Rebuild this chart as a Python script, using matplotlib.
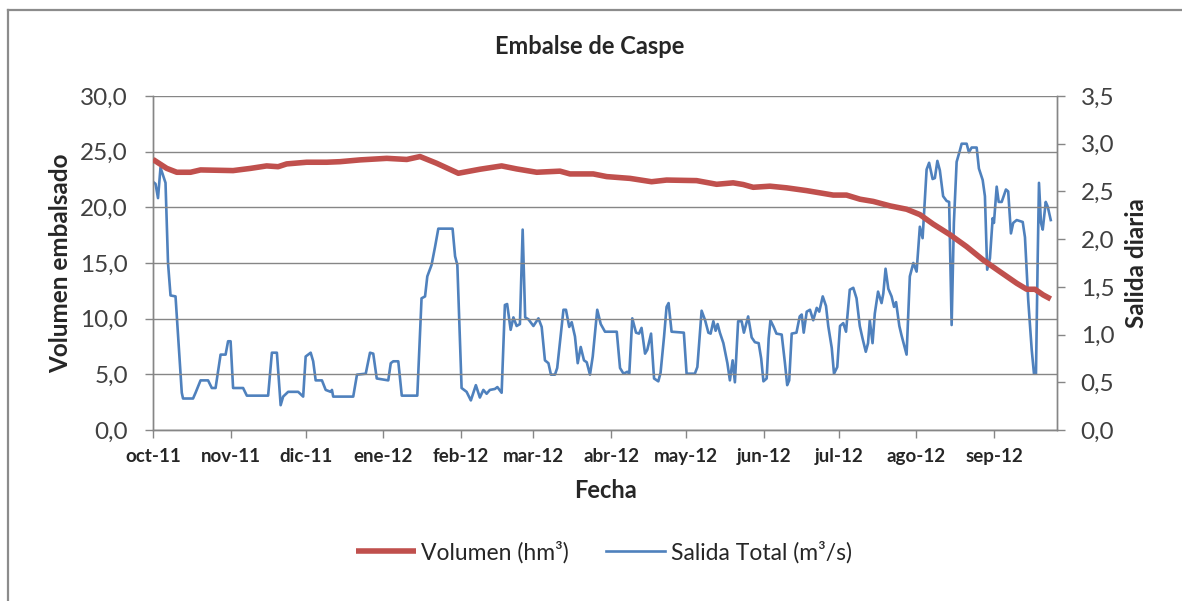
import datetime as dt
import matplotlib
matplotlib.use("Agg")
import matplotlib.pyplot as plt
import matplotlib.dates as mdates
from matplotlib.lines import Line2D

plt.rcParams['font.family'] = ['Lato', 'DejaVu Sans']

# ---------------- data ----------------
start_date = dt.date(2011, 10, 1)

# Volumen (hm3) - day offset from 1 Oct 2011 and value
vol_days = [0, 5.5, 9.5, 15, 19, 32, 39, 45.4, 50, 53.4, 61.4, 69.4, 74.7, 82.7,
            93.4, 101.4, 106.7, 113.3, 122, 130.6, 139.3, 145.3, 153.3, 162.6,
            166.6, 175.9, 181.3, 190.6, 199.2, 205.2, 217.2, 225.2, 231.8, 235.8,
            239.8, 246.5, 253.2, 261.2, 271.8, 277.1, 282.5, 287.8, 294.5, 301.1,
            306.4, 311.7, 318.4, 325.1, 331.7, 338.4, 345.1, 349.1, 352.4, 355.7,
            358.7]
vol_values = [24.3, 23.5, 23.15, 23.15, 23.36, 23.3, 23.5, 23.72, 23.65, 23.9,
              24.05, 24.05, 24.1, 24.26, 24.4, 24.3, 24.56, 23.96, 23.06, 23.42,
              23.72, 23.45, 23.15, 23.25, 23.0, 23.0, 22.76, 22.6, 22.3, 22.45,
              22.4, 22.07, 22.2, 22.05, 21.8, 21.9, 21.75, 21.5, 21.1, 21.1,
              20.73, 20.53, 20.13, 19.83, 19.35, 18.5, 17.55, 16.47, 15.27,
              14.22, 13.18, 12.64, 12.64, 12.13, 11.77]

# Salida Total (m3/s)
sal_days = [0, 1, 2, 3, 5, 6, 7, 9, 11.5, 12, 16, 17, 19, 22, 23.5, 25, 27, 29,
            30, 31, 32, 36, 37.5, 46, 47.5, 49.5, 51, 52, 54, 58, 60, 61, 63, 64,
            65, 67.5, 69, 71, 71.5, 72, 80, 81.5, 85, 86.7, 88, 89.4, 94, 95, 96,
            98, 99.4, 105.6, 107.3, 108.7, 109.6, 111.3, 112.7, 114, 119.7, 120.7,
            121.6, 123.3, 125.3, 127, 129, 130.6, 132, 133.3, 134.6, 136.6, 137.6,
            139.3, 140.6, 141.5, 142.9, 144, 145.3, 146.6, 147.7, 148.7, 150, 152,
            154, 155.3, 156.6, 158, 159, 160.6, 161.5, 164, 165, 166.3, 167.3,
            168.6, 169.7, 170.9, 172.2, 173.3, 174.6, 175.7, 177.5, 178.9, 180.6,
            185.3, 186.6, 188, 189.5, 190.3, 191.5, 193, 194.2, 195.2, 196.6,
            197.5, 199, 200.2, 201.9, 202.8, 204.2, 205.2, 206, 207.2, 212.1,
            213.2, 216.5, 217.5, 219.2, 220.6, 221.9, 222.8, 223.9, 224.8, 225.6,
            226.5, 227.9, 229.5, 230.5, 231.6, 232.5, 233.8, 235.2, 236.1, 237.8,
            239.2, 240.5, 242, 243, 243.9, 245.2, 246, 246.7, 248, 249.1, 251.2,
            252.5, 253.4, 254.2, 255.2, 257.1, 258.4, 259.2, 260, 261.2, 262.5,
            263.8, 265.2, 266.2, 267.6, 268.9, 269.8, 271.2, 272.1, 273.4, 274.5,
            275.8, 276.9, 278.4, 279.8, 281.1, 282.4, 283.5, 284.8, 285.7, 286.4,
            287.5, 288.4, 289.7, 291.1, 291.8, 292.7, 293.8, 295.1, 296.1, 296.9,
            298.2, 299.1, 301.1, 302.4, 303.8, 305.1, 306.4, 307.5, 309.1, 310.1,
            311.5, 312.4, 313.4, 314.4, 315.7, 317.1, 318.1, 319.1, 320, 321.1,
            322.4, 323.1, 325.1, 326, 327.1, 329.1, 330, 331.5, 332.4, 333.3,
            334.4, 335.5, 336, 337.1, 337.9, 339.1, 340.8, 341.7, 342.8, 343.7,
            345.1, 347.5, 348.4, 349.7, 351.1, 352, 352.8, 353.5, 354, 354.8,
            355.5, 356.7, 357.5, 358.7]
sal_values = [2.60, 2.58, 2.43, 2.75, 2.59, 1.75, 1.41, 1.40, 0.39, 0.33, 0.33,
              0.39, 0.52, 0.52, 0.44, 0.44, 0.79, 0.79, 0.93, 0.93, 0.44, 0.44,
              0.36, 0.36, 0.81, 0.81, 0.26, 0.35, 0.40, 0.40, 0.35, 0.77, 0.81,
              0.72, 0.52, 0.52, 0.42, 0.40, 0.42, 0.35, 0.35, 0.58, 0.59, 0.81,
              0.80, 0.54, 0.52, 0.70, 0.72, 0.72, 0.36, 0.36, 1.38, 1.40, 1.61,
              1.73, 1.92, 2.11, 2.11, 1.82, 1.73, 0.44, 0.40, 0.31, 0.47, 0.34,
              0.42, 0.38, 0.42, 0.43, 0.45, 0.39, 1.31, 1.32, 1.05, 1.18, 1.09,
              1.11, 2.10, 1.18, 1.16, 1.09, 1.17, 1.08, 0.73, 0.70, 0.58, 0.58,
              0.65, 1.26, 1.26, 1.08, 1.13, 0.98, 0.70, 0.87, 0.73, 0.71, 0.58,
              0.77, 1.26, 1.11, 1.03, 1.03, 0.65, 0.59, 0.61, 0.59, 1.17, 1.02,
              1.01, 1.07, 0.80, 0.84, 1.01, 0.54, 0.51, 0.60, 0.98, 1.29, 1.33,
              1.03, 1.02, 0.59, 0.59, 0.66, 1.25, 1.15, 1.02, 1.01, 1.14, 1.04,
              1.11, 1.02, 0.91, 0.70, 0.52, 0.73, 0.50, 1.14, 1.14, 1.02, 1.19,
              0.97, 0.92, 0.91, 0.75, 0.51, 0.54, 0.96, 1.15, 1.08, 1.01, 1.00,
              0.70, 0.47, 0.52, 1.01, 1.02, 1.19, 1.21, 1.02, 1.24, 1.26, 1.15,
              1.28, 1.24, 1.40, 1.30, 1.09, 0.86, 0.59, 0.66, 1.09, 1.12, 1.03,
              1.47, 1.49, 1.38, 1.09, 0.96, 0.82, 0.91, 1.15, 0.91, 1.22, 1.45,
              1.33, 1.43, 1.69, 1.48, 1.40, 1.29, 1.34, 1.09, 0.99, 0.79, 1.61,
              1.75, 1.66, 2.13, 2.01, 2.73, 2.80, 2.63, 2.64, 2.82, 2.72, 2.45,
              2.40, 2.39, 1.10, 2.17, 2.81, 2.93, 3.00, 3.00, 2.91, 2.96, 2.96,
              2.74, 2.62, 2.45, 1.68, 1.80, 2.22, 2.17, 2.55, 2.39, 2.39, 2.52,
              2.50, 2.06, 2.17, 2.20, 2.18, 2.02, 1.36, 0.84, 0.59, 0.59, 1.82,
              2.59, 2.17, 2.10, 2.39, 2.34, 2.20]

month_labels = ['oct-11', 'nov-11', 'dic-11', 'ene-12', 'feb-12', 'mar-12',
                'abr-12', 'may-12', 'jun-12', 'jul-12', 'ago-12', 'sep-12']
left_ticks = [0, 5, 10, 15, 20, 25, 30]
right_ticks = [0, 0.5, 1.0, 1.5, 2.0, 2.5, 3.0, 3.5]

# ---------------- figure ----------------
W, H = 1182, 601
fig = plt.figure(figsize=(W / 100, H / 100), dpi=100)
fig.patch.set_facecolor('white')

ax_l, ax_r, ax_t, ax_b = 153, 1057, 96, 430
ax = fig.add_axes([ax_l / W, 1 - ax_b / H, (ax_r - ax_l) / W, (ax_b - ax_t) / H])
ax2 = ax.twinx()

base = mdates.date2num(start_date)
vx = [base + d for d in vol_days]
sx = [base + d for d in sal_days]

gray = '#868686'
red = '#C0504D'
blue = '#4F81BD'
txt = '#262626'

l2, = ax2.plot(sx, sal_values, color=blue, lw=1.9, solid_joinstyle='round', zorder=2)
l1, = ax.plot(vx, vol_values, color=red, lw=4.0, solid_capstyle='butt', zorder=3)
ax.set_zorder(ax2.get_zorder() + 1)
ax.patch.set_visible(False)

xmin = base
xmax = base + 361.2
ax.set_xlim(xmin, xmax)
ax.set_ylim(0, 30)
ax2.set_ylim(0, 3.5)

month_ticks = [mdates.date2num(dt.date(2011 + (9 + i) // 12, (9 + i) % 12 + 1, 1)) for i in range(12)]
ax.set_xticks(month_ticks)
ax.set_xticklabels(month_labels, fontsize=13.5, fontweight='bold', color=txt)
ax.set_yticks(left_ticks)
ax.set_yticklabels([f"{v:.1f}".replace('.', ',') for v in left_ticks], fontsize=17.5, color='#404040')
ax2.set_yticks(right_ticks)
ax2.set_yticklabels([f"{v:.1f}".replace('.', ',') for v in right_ticks], fontsize=17.5, color='#404040')

ax.grid(axis='y', color=gray, lw=1.0)
ax.set_axisbelow(True)
for a in (ax, ax2):
    for s in a.spines.values():
        s.set_color(gray)
        s.set_linewidth(1.0)
    a.spines['top'].set_visible(False)
ax.tick_params(axis='both', which='major', direction='out', length=6, width=1, color=gray)
ax.tick_params(axis='x', pad=7)
ax.tick_params(axis='y', pad=12)
ax2.tick_params(axis='y', direction='out', length=6, width=1, color=gray, pad=11)

ax.set_xlabel('Fecha', fontsize=17, fontweight='bold', color=txt, labelpad=10)

y_mid = 1 - 263 / H
fig.text(61 / W, y_mid, 'Volumen embalsado', rotation=90, ha='center', va='center',
         fontsize=17.5, fontweight='bold', color=txt)
fig.text(1136 / W, y_mid, 'Salida diaria', rotation=90, ha='center', va='center',
         fontsize=17.5, fontweight='bold', color=txt)

fig.text(590 / W, 1 - 46 / H, 'Embalse de Caspe', ha='center', va='center',
         fontsize=17, fontweight='bold', color=txt)

fig.legend([l1, l2], ['Volumen (hm³)', 'Salida Total (m³/s)'], loc='center',
           bbox_to_anchor=(604 / W, 1 - 552 / H), ncol=2, frameon=False,
           fontsize=16.5, handlelength=2.6, handletextpad=0.25, columnspacing=1.6,
           labelcolor=txt)

# chart border
fig.add_artist(Line2D([8 / W, 1.0], [1 - 10 / H, 1 - 10 / H], color='#8c8c8c', lw=1.6,
                      transform=fig.transFigure))
fig.add_artist(Line2D([8 / W, 8 / W], [0, 1 - 10 / H], color='#8c8c8c', lw=1.6,
                      transform=fig.transFigure))

fig.savefig('out.png', dpi=100, facecolor='white')
